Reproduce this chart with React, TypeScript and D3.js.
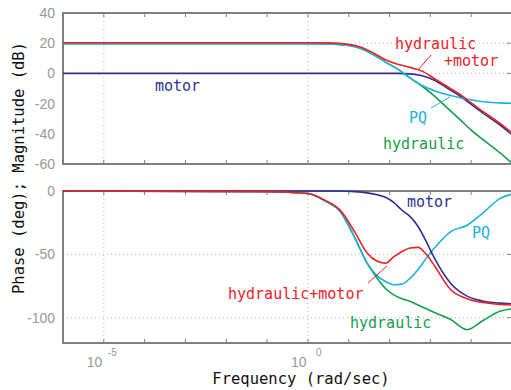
import React from 'react';
import * as d3 from 'd3';

// log10 of frequency (rad/sec) for the magnitude samples
const magFreqExp = [-6, 0, 0.5, 1.0, 1.3, 1.6, 1.9, 2.2, 2.5, 2.8, 3.1, 3.4, 3.7, 4.0, 4.3, 4.7, 5.0];
const magHydraulicMotor = [20.3, 20.3, 20.2, 19.2, 17.3, 13.5, 9, 6, 4, 1.5, -3.5, -8.5, -13.5, -19.5, -25.5, -33, -39.5];
const magHydraulic = [19.6, 19.6, 19.5, 18.5, 16.5, 12.5, 7.5, 2.8, -3, -8.5, -15, -22.5, -30, -37.5, -44, -52.5, -59.5];
const magPQ = [19.6, 19.6, 19.5, 18.5, 16.5, 12.5, 7.5, 2.8, -3, -8, -11.5, -14, -16, -17.5, -18.8, -19.5, -19.8];
const magMotor = [0, 0, 0, 0, 0, 0, 0, 0, -0.3, -1.5, -4.5, -9.5, -14.5, -20.5, -26.5, -34, -40.5];

// log10 of frequency for the phase samples
const phaseFreqExp = [-6, -1, 0, 0.4, 0.8, 1.15, 1.45, 1.7, 1.9, 2.1, 2.3, 2.5, 2.7, 2.9, 3.1, 3.5, 3.9, 4.3, 4.7, 5.0];
const phaseMotor = [0, 0, 0, 0, 0, -0.5, -1.5, -3, -5, -9, -15, -20, -28, -40, -53, -73, -83, -87, -88.5, -89];
const phaseHydraulicMotor = [0, -0.5, -2, -7, -15.5, -32.5, -49, -55.5, -57, -52, -48, -45, -44.5, -50, -59, -78, -85, -88, -89.5, -90];
const phaseHydraulic = [0, -0.5, -2, -7.5, -16.5, -37, -57, -69, -77, -82, -85, -87, -90, -93, -96, -101.5, -109.5, -102, -95, -93];
const phasePQ = [0, -0.5, -2, -7.5, -16.5, -37, -57, -67, -71.5, -74, -73.5, -69, -62, -53, -45, -32, -27, -17, -6, -2.5];

const magTicks = [40, 20, 0, -20, -40, -60];
const magGrid = [20, 0];
const phaseTicks = [0, -50, -100];
const phaseGrid = [-50, -100];
const decadeTicks = [-5, -4, -3, -2, -1, 0, 1, 2, 3, 4];
const labeledExp = [-5, 0];

const RED = '#ec2227';
const GREEN = '#13a04b';
const CYAN = '#1cb2d9';
const BLUE = '#2e3192';
const SPINE = '#7f7f7f';
const TICKTXT = '#999999';
const MONO = '"DejaVu Sans Mono", monospace';
const SANS = '"Liberation Sans", Arial, sans-serif';

const W = 511;
const H = 390;
const left = 63;
const right = 512;
const magTop = 13;
const magBottom = 164;
const phTop = 191;
const phBottom = 343;

export default function App() {
  const x = d3.scaleLog().domain([1e-6, 1e5]).range([left, right]);
  const yMag = d3.scaleLinear().domain([-60, 40]).range([magBottom, magTop]);
  const yPh = d3.scaleLinear().domain([-120, 0]).range([phBottom, phTop]);

  const magLine = d3
    .line<number>()
    .x((_, i) => x(Math.pow(10, magFreqExp[i])))
    .y((d) => yMag(d))
    .curve(d3.curveMonotoneX);
  const phLine = d3
    .line<number>()
    .x((_, i) => x(Math.pow(10, phaseFreqExp[i])))
    .y((d) => yPh(d))
    .curve(d3.curveMonotoneX);

  const panel = (top: number, bottom: number, id: string) => (
    <g>
      {/* vertical grid */}
      {labeledExp.map((e) => (
        <line key={'v' + e} x1={x(Math.pow(10, e))} x2={x(Math.pow(10, e))} y1={top} y2={bottom}
          stroke="#b5b5b5" strokeDasharray="1,3" />
      ))}
      {/* decade ticks top and bottom */}
      {decadeTicks.map((e) => (
        <g key={'t' + e}>
          <line x1={x(Math.pow(10, e))} x2={x(Math.pow(10, e))} y1={top} y2={top + 4} stroke={SPINE} strokeWidth={1} />
          <line x1={x(Math.pow(10, e))} x2={x(Math.pow(10, e))} y1={bottom} y2={bottom - 4} stroke={SPINE} strokeWidth={1} />
        </g>
      ))}
      <clipPath id={id}>
        <rect x={left} y={top - 2} width={right - left} height={bottom - top + 4} />
      </clipPath>
    </g>
  );

  return (
    <svg width={W} height={H} style={{ position: 'absolute', left: 0, top: 0, background: '#fff' }}>
      {panel(magTop, magBottom, 'clipMag')}
      {panel(phTop, phBottom, 'clipPh')}

      {/* horizontal grid */}
      {magGrid.map((v) => (
        <line key={'mg' + v} x1={left} x2={right} y1={yMag(v)} y2={yMag(v)} stroke="#b5b5b5" strokeDasharray="1,3" />
      ))}
      {phaseGrid.map((v) => (
        <line key={'pg' + v} x1={left} x2={right} y1={yPh(v)} y2={yPh(v)} stroke="#b5b5b5" strokeDasharray="1,3" />
      ))}
      {magGrid.map((v) => (
        <line key={'mr' + v} x1={right - 5} x2={right} y1={yMag(v)} y2={yMag(v)} stroke={SPINE} />
      ))}
      {phaseGrid.map((v) => (
        <line key={'pr' + v} x1={right - 5} x2={right} y1={yPh(v)} y2={yPh(v)} stroke={SPINE} />
      ))}

      {/* spines */}
      <path d={`M${right},${magTop}H${left}V${magBottom}H${right}`} fill="none" stroke={SPINE} strokeWidth={2} />
      <path d={`M${right},${phTop}H${left}V${phBottom}H${right}`} fill="none" stroke={SPINE} strokeWidth={2} />

      {/* magnitude curves */}
      <g clipPath="url(#clipMag)" fill="none" strokeWidth={1.6}>
        <path d={magLine(magMotor) ?? ''} stroke={BLUE} />
        <path d={magLine(magHydraulic) ?? ''} stroke={GREEN} />
        <path d={magLine(magPQ) ?? ''} stroke={CYAN} />
        <path d={magLine(magHydraulicMotor) ?? ''} stroke={RED} />
      </g>

      {/* phase curves */}
      <g clipPath="url(#clipPh)" fill="none" strokeWidth={1.6}>
        <path d={phLine(phaseHydraulic) ?? ''} stroke={GREEN} />
        <path d={phLine(phasePQ) ?? ''} stroke={CYAN} />
        <path d={phLine(phaseMotor) ?? ''} stroke={BLUE} />
        <path d={phLine(phaseHydraulicMotor) ?? ''} stroke={RED} />
      </g>

      {/* y tick labels */}
      <g fontFamily={SANS} fontSize={14} fill={TICKTXT} textAnchor="end">
        {magTicks.map((v) => (
          <text key={'ml' + v} x={55} y={yMag(v) + 5}>{v}</text>
        ))}
        {phaseTicks.map((v) => (
          <text key={'pl' + v} x={55} y={yPh(v) + 5}>{v}</text>
        ))}
      </g>

      {/* x tick labels */}
      <g fontFamily={SANS} fill={TICKTXT}>
        {labeledExp.map((e) => (
          <g key={'xl' + e}>
            <text x={x(Math.pow(10, e)) - 17} y={367} fontSize={14}>10</text>
            <text x={x(Math.pow(10, e)) + (e < 0 ? 4 : 8)} y={356} fontSize={10}>{e}</text>
          </g>
        ))}
      </g>

      {/* axis titles */}
      <text x={301} y={384} fontFamily={MONO} fontSize={15.5} textAnchor="middle" fill="#111">Frequency (rad/sec)</text>
      <text transform="translate(24,168) rotate(-90)" fontFamily={MONO} fontSize={15.5} textAnchor="middle" fill="#111">
        Phase (deg); Magnitude (dB)
      </text>

      {/* series annotations */}
      <g fontFamily={MONO} fontSize={15}>
        <text x={155} y={91} fill={BLUE}>motor</text>
        <text x={395} y={49} fill={RED}>hydraulic</text>
        <text x={444} y={66} fill={RED}>+motor</text>
        <text x={409} y={123} fill={CYAN}>PQ</text>
        <text x={383} y={149} fill={GREEN}>hydraulic</text>
        <text x={407} y={207} fill={BLUE}>motor</text>
        <text x={472} y={238} fill={CYAN}>PQ</text>
        <text x={228} y={299} fill={RED}>hydraulic+motor</text>
        <text x={350} y={328} fill={GREEN}>hydraulic</text>
      </g>
      <line x1={418} y1={70} x2={431} y2={55} stroke={RED} strokeWidth={1} />
      <line x1={431} y1={108} x2={450} y2={97} stroke={CYAN} strokeWidth={1} />
      <line x1={368} y1={283} x2={387} y2={266} stroke={RED} strokeWidth={1} />
    </svg>
  );
}
